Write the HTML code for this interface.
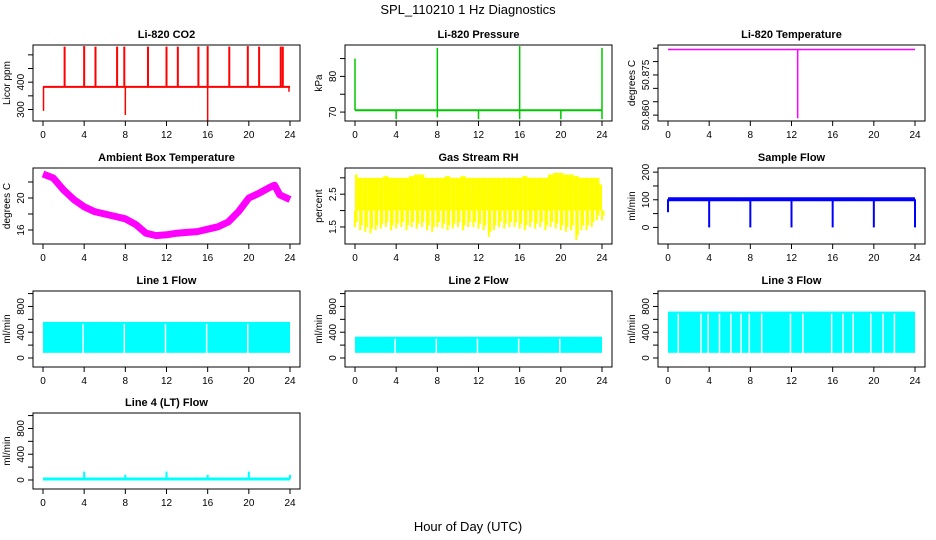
<!DOCTYPE html>
<html><head><meta charset="utf-8"><style>
html,body{margin:0;padding:0;background:#fff;}
svg{display:block;font-family:"Liberation Sans",sans-serif;}
</style></head><body>
<svg id="c" width="936" height="540" viewBox="0 0 936 540">
<text x="468" y="14" text-anchor="middle" font-size="13">SPL_110210  1 Hz Diagnostics</text>
<text x="468" y="531" text-anchor="middle" font-size="13">Hour of Day (UTC)</text>
</svg>
<script>
// ---- data ----
const xTicks = [0,4,8,12,16,20,24];
const co2Base = 383;
const co2SpikeHours = [2.1,4.0,5.1,7.2,7.9,10.2,12.0,13.1,15.1,16.0,18.1,19.9,21.0,23.1,23.3];
const co2SpikeValues = [530,532,530,530,530,530,530,530,530,532,530,532,530,530,530];
const co2DipHours = [0.05,8.0,16.0,23.9];
const co2DipValues = [295,280,258,365];
const presBase = 70.5;
const presSpikeHours = [0,8,16,24];
const presSpikeValues = [85,88,88.5,88];
const presDipHours = [4,8,12,16,20,24];
const presDipValues = [68,68.5,68,68,68,68];
const tempBase = 50.8845;
const tempDipHour = 12.6;
const tempDipValue = 50.8588;
const ambHours = [0,1,2,3,4,5,6,7,8,9,10,11,12,13,14,15,16,17,18,19,20,21,22,22.5,23,24];
const ambValues = [23,22.5,21,19.8,18.9,18.3,18.0,17.7,17.4,16.7,15.6,15.3,15.4,15.6,15.7,15.8,16.1,16.4,17.0,18.3,20.0,20.6,21.3,21.6,20.4,19.8];
const rhLow = [1.5,1.4,1.35,1.3,1.4,1.45,1.5,1.4,1.45,1.5,1.4,1.5,1.45,1.5,1.4,1.35,1.5,1.45,1.4,1.45,1.5,1.4,1.5,1.5,1.45,1.4,1.2,1.4,1.5,1.45,1.5,1.5,1.45,1.4,1.5,1.45,1.5,1.4,1.5,1.45,1.4,1.35,1.4,1.1,1.4,1.4,1.5,1.7,1.7];
const rhHigh = [3.1,3.0,3.0,3.0,3.0,3.0,3.05,3.0,3.0,3.0,3.0,3.05,3.1,3.1,3.0,3.0,3.0,3.0,3.05,3.0,3.0,3.05,3.0,3.0,3.0,3.0,3.0,3.0,3.0,3.0,3.0,3.0,3.0,3.05,3.0,3.0,3.0,3.0,3.1,3.15,3.15,3.1,3.1,3.05,3.0,3.0,3.0,3.0,2.8];
const sampleBase = 102;
const sampleDipHours = [4,8,12,16,20,24];
const line1Low = 80, line1High = 560;
const line1Gaps = [3.9,7.9,11.9,15.9,19.9];
const line2Low = 80, line2High = 330;
const line2Gaps = [3.9,7.9,11.9,15.9,19.9];
const line3Low = 80, line3High = 720;
const line3Gaps = [1.0,3.2,3.9,5.0,6.1,7.1,7.9,9.1,11.9,13.1,15.9,17.0,18.0,19.7,20.9,22.0];
const line4Base = 15;
const line4SpikeHours = [4,8,12,16,20,24];
const line4SpikeValues = [130,80,130,80,130,80];

// ---- layout ----
const svg = document.getElementById('c');
const NS = 'http://www.w3.org/2000/svg';
const colL = [33,345,658], rowT = [45,168,291,413], BW = 267, BH = 76;
function el(tag, attrs, parent){const e=document.createElementNS(NS,tag);for(const k in attrs)e.setAttribute(k,attrs[k]);(parent||svg).appendChild(e);return e;}
function panel(col,row,title,ylab,dom,ticks,labels,name){
  const L=colL[col],T=rowT[row];
  const g=el('g',{});
  
  
  const xs=h=>L+10+h*(247/24);
  const ys=v=>T+BH-(v-dom[0])/(dom[1]-dom[0])*BH;
  const t=el('text',{x:L+BW/2,y:T-7,'text-anchor':'middle','font-size':11,'font-weight':'bold'},g);t.textContent=title;
  
  
  const plot=el('g',{},g);
  
  
  const frame=el('rect',{x:L,y:T,width:BW,height:BH,fill:'none',stroke:'#000','stroke-width':1},g);
  
  
  xTicks.forEach(h=>{el('line',{x1:xs(h),x2:xs(h),y1:T+BH,y2:T+BH+5,stroke:'#000'},g);
    const tx=el('text',{x:xs(h),y:T+BH+17,'text-anchor':'middle','font-size':10},g);tx.textContent=h;
    
    });
  ticks.forEach((v,i)=>{el('line',{x1:L,x2:L-5,y1:ys(v),y2:ys(v),stroke:'#000'},g);
    if(labels[i]){const x=L-9,y=ys(v);const tx=el('text',{x:x,y:y,'text-anchor':'middle','font-size':10,transform:`rotate(-90 ${x} ${y})`},g);tx.textContent=labels[i];
    
    }});
  const yx=L-23,yy=T+BH/2;
  const yl=el('text',{x:yx,y:yy,'text-anchor':'middle','font-size':10,transform:`rotate(-90 ${yx} ${yy})`},g);yl.textContent=ylab;
  
  
  g.insertBefore(plot,frame);
  return {xs,ys,plot};
}
function vline(p,x,y1,y2,color,w){el('line',{x1:x,x2:x,y1:y1,y2:y2,stroke:color,'stroke-width':w||1.5},p);}

// CO2
let P=panel(0,0,'Li-820 CO2','Licor ppm',[258,536],[300,350,400,450,500],['300','','400','',''],'co2');
el('line',{x1:P.xs(0),x2:P.xs(24),y1:P.ys(co2Base),y2:P.ys(co2Base),stroke:'#f00','stroke-width':2},P.plot);
co2SpikeHours.forEach((h,i)=>vline(P.plot,P.xs(h),P.ys(co2Base),P.ys(co2SpikeValues[i]),'#f00',2));
co2DipHours.forEach((h,i)=>vline(P.plot,P.xs(h),P.ys(co2Base),P.ys(co2DipValues[i]),'#f00',1.5));

// Pressure
P=panel(1,0,'Li-820 Pressure','kPa',[67.5,88.8],[70,75,80,85],['70','','80',''],'pressure');
el('line',{x1:P.xs(0),x2:P.xs(24),y1:P.ys(presBase),y2:P.ys(presBase),stroke:'#00c800','stroke-width':2},P.plot);
presSpikeHours.forEach((h,i)=>vline(P.plot,P.xs(h),P.ys(presBase),P.ys(presSpikeValues[i]),'#00c800',1.5));
presDipHours.forEach((h,i)=>vline(P.plot,P.xs(h),P.ys(presBase),P.ys(presDipValues[i]),'#00c800',1.5));

// Li temp
P=panel(2,0,'Li-820 Temperature','degrees C',[50.8578,50.8862],[50.860,50.865,50.870,50.875,50.880,50.885],['50.860','','','50.875','',''],'li820-temp');
el('line',{x1:P.xs(0),x2:P.xs(24),y1:P.ys(tempBase),y2:P.ys(tempBase),stroke:'#f0f','stroke-width':1.5},P.plot);
vline(P.plot,P.xs(tempDipHour),P.ys(tempBase),P.ys(tempDipValue),'#f0f',1.5);

// Ambient
P=panel(0,1,'Ambient Box Temperature','degrees C',[14.25,23.75],[16,18,20,22],['16','','20',''],'ambient-temp');
el('polyline',{points:ambHours.map((h,i)=>P.xs(h)+','+P.ys(ambValues[i])).join(' '),fill:'none',stroke:'#f0f','stroke-width':7,'stroke-linejoin':'round'},P.plot);

// RH
P=panel(1,1,'Gas Stream RH','percent',[0.98,3.3],[1.5,2.0,2.5,3.0],['1.5','','2.5',''],'gas-rh');
rhLow.forEach((v,i)=>{const h=i*0.5;const x1=P.xs(Math.max(0,h-0.25)),x2=P.xs(Math.min(24,h+0.25));
  el('rect',{x:x1,y:P.ys(rhHigh[i]),width:x2-x1,height:P.ys(2.0)-P.ys(rhHigh[i]),fill:'#ff0'},P.plot);
  vline(P.plot,P.xs(h),P.ys(2.0),P.ys(v),'#ff0',2);
  vline(P.plot,P.xs(h+0.15),P.ys(2.0),P.ys(v+0.15),'#ff0',2);});

// Sample flow
P=panel(2,1,'Sample Flow','ml/min',[-60,215],[0,50,100,150,200],['0','','100','','200'],'sample-flow');
el('line',{x1:P.xs(0),x2:P.xs(24),y1:P.ys(sampleBase),y2:P.ys(sampleBase),stroke:'#00f','stroke-width':4},P.plot);
sampleDipHours.forEach(h=>vline(P.plot,P.xs(h),P.ys(sampleBase),P.ys(0),'#00f',2));
vline(P.plot,P.xs(0),P.ys(sampleBase),P.ys(55),'#00f',2);

// Line flows
const flowTicks=[0,200,400,600,800,1000], flowLabels=['0','','400','','800',''];
function band(P,lo,hi,gaps){
  el('rect',{x:P.xs(0),y:P.ys(hi),width:P.xs(24)-P.xs(0),height:P.ys(lo)-P.ys(hi),fill:'#0ff'},P.plot);
  gaps.forEach(h=>vline(P.plot,P.xs(h),P.ys(hi)+2,P.ys(lo),'#fff',1.5));
}
P=panel(0,2,'Line 1 Flow','ml/min',[-140,1040],flowTicks,flowLabels,'line1-flow');
band(P,line1Low,line1High,line1Gaps);
P=panel(1,2,'Line 2 Flow','ml/min',[-140,1040],flowTicks,flowLabels,'line2-flow');
band(P,line2Low,line2High,line2Gaps);
P=panel(2,2,'Line 3 Flow','ml/min',[-140,1040],flowTicks,flowLabels,'line3-flow');
band(P,line3Low,line3High,line3Gaps);
P=panel(0,3,'Line 4 (LT) Flow','ml/min',[-140,1040],flowTicks,flowLabels,'line4-flow');
el('line',{x1:P.xs(0),x2:P.xs(24),y1:P.ys(line4Base),y2:P.ys(line4Base),stroke:'#0ff','stroke-width':3},P.plot);
line4SpikeHours.forEach((h,i)=>vline(P.plot,P.xs(h),P.ys(line4Base),P.ys(line4SpikeValues[i]),'#0ff',2));
</script>
</body></html>
